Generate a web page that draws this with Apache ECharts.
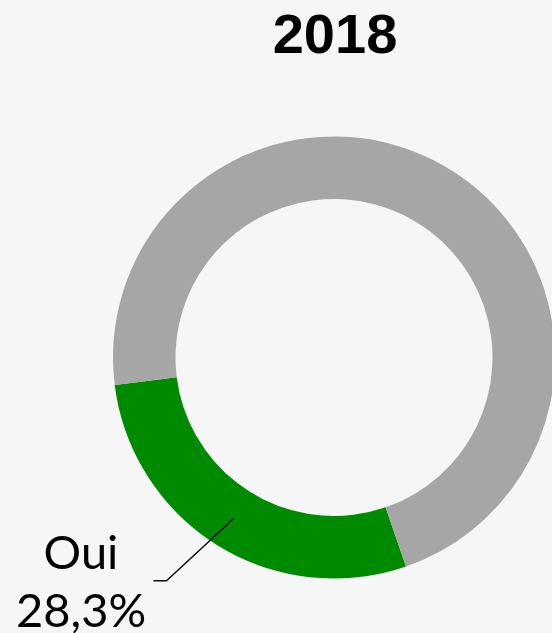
<!DOCTYPE html>
<html>
<head>
<meta charset="utf-8">
<script src="https://cdn.jsdelivr.net/npm/echarts@6/dist/echarts.min.js"></script>
<style>
  html, body { margin: 0; padding: 0; background: #f6f6f6; }
  #chart { width: 552px; height: 633px; }
</style>
</head>
<body>
<div id="chart"></div>
<script>
const titre = '2018';
const categories = ['Oui', 'Non'];
const valeurs = [28.3, 71.7];
const couleurs = ['#008a00', '#a6a6a6'];

const chart = echarts.init(document.getElementById('chart'));

const donnees = categories.map((c, i) => ({
  name: c,
  value: valeurs[i],
  itemStyle: { color: couleurs[i] }
}));

function pct(v) {
  return String(v).replace('.', ',') + '%';
}

chart.setOption({
  backgroundColor: '#f6f6f6',
  animation: false,
  title: {
    text: titre,
    left: 330,
    top: 5,
    textAlign: 'center',
    textStyle: {
      fontFamily: 'Liberation Sans, Arial, sans-serif',
      fontWeight: 'bold',
      fontSize: 56,
      color: '#000'
    }
  },
  series: [
    {
      type: 'pie',
      silent: true,
      z: 2,
      center: [334, 357.5],
      radius: [158.5, 221],
      startAngle: 289,
      clockwise: true,
      label: { show: false },
      labelLine: { show: false },
      data: donnees
    },
    {
      // série invisible : sert seulement à placer l'étiquette "Oui" au milieu de l'anneau
      type: 'pie',
      silent: true,
      z: 5,
      center: [334, 357.5],
      radius: [0, 190],
      startAngle: 289,
      clockwise: true,
      itemStyle: { color: 'transparent' },
      label: {
        show: true,
        position: 'outside',
        formatter: p => p.dataIndex === 0 ? `${p.name}\n${pct(p.value)}` : '',
        fontFamily: 'Lato, sans-serif',
        fontSize: 47,
        lineHeight: 58,
        color: '#000',
        align: 'center'
      },
      labelLine: {
        show: true,
        length: 60,
        length2: 12,
        z: 10,
        lineStyle: { color: '#000', width: 1.3 }
      },
      labelLayout: params => {
        if (params.dataIndex !== 0) return {};
        const p0 = params.labelLinePoints ? params.labelLinePoints[0] : [233, 518];
        return {
          x: 81,
          y: 583,
          align: 'center',
          verticalAlign: 'middle',
          labelLinePoints: [p0, [p0[0] - 67, p0[1] + 62], [p0[0] - 80, p0[1] + 62]]
        };
      },
      data: donnees.map(d => ({ name: d.name, value: d.value, labelLine: { show: d.name === 'Oui' } }))
    }
  ]
});
</script>
</body>
</html>
